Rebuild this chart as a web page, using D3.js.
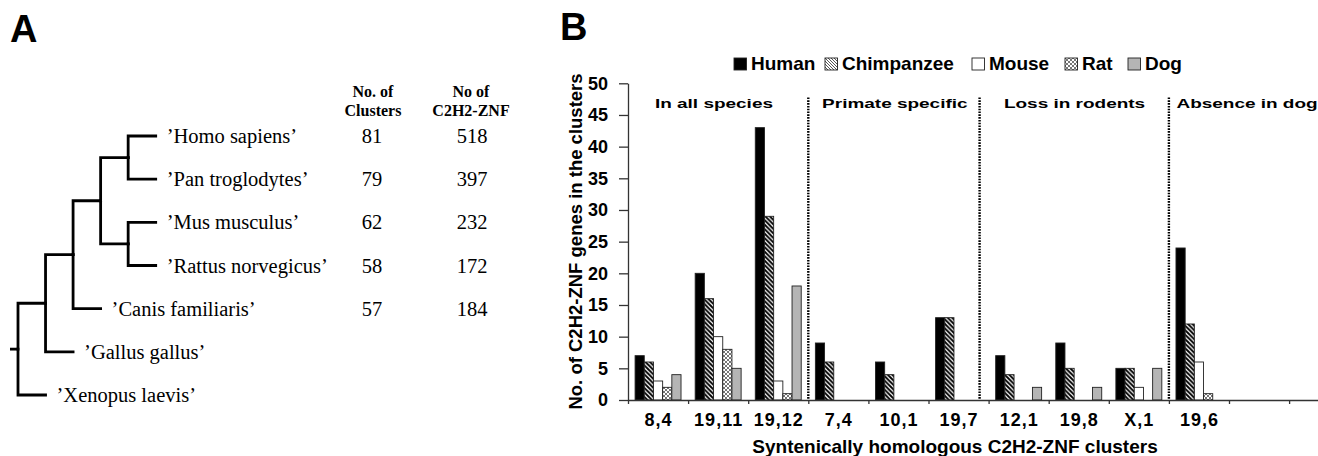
<!DOCTYPE html>
<html>
<head>
<meta charset="utf-8">
<script src="https://cdn.jsdelivr.net/npm/d3@7"></script>
<style>
  html, body { margin: 0; padding: 0; background: #fff; }
  svg { display: block; }
</style>
</head>
<body>
<svg id="chart" width="1318" height="456"></svg>
<script>
// ---------------- DATA ----------------
// Panel A: species tree and counts
const speciesNames = ["’Homo sapiens’", "’Pan troglodytes’", "’Mus musculus’", "’Rattus norvegicus’", "’Canis familiaris’", "’Gallus gallus’", "’Xenopus laevis’"];
const clusterCounts = [81, 79, 62, 58, 57, null, null];
const znfCounts = [518, 397, 232, 172, 184, null, null];
// Tree topology (indices into speciesNames)
const treeTopology = [[[[[0, 1], [2, 3]], 4], 5], 6];

// Panel B: grouped bars
const categories = ["8,4", "19,11", "19,12", "7,4", "10,1", "19,7", "12,1", "19,8", "X,1", "19,6", "", ""];
const seriesNames = ["Human", "Chimpanzee", "Mouse", "Rat", "Dog"];
const human      = [7, 20, 43, 9, 6, 13, 7, 9, 5, 24, 0, 0];
const chimpanzee = [6, 16, 29, 6, 4, 13, 4, 5, 5, 12, 0, 0];
const mouse      = [3, 10, 3, 0, 0, 0, 0, 0, 2, 6, 0, 0];
const rat        = [2, 8, 1, 0, 0, 0, 0, 0, 0, 1, 0, 0];
const dog        = [4, 5, 18, 0, 0, 0, 2, 2, 5, 0, 0, 0];
const yTicks = [0, 5, 10, 15, 20, 25, 30, 35, 40, 45, 50];
const sectionNames = ["In all species", "Primate specific", "Loss in rodents", "Absence in dog"];
const sectionCenters = [1.43, 4.44, 7.43, 10.3];   // in category units
const dividerPositions = [3, 5.85, 9];               // in category units

// ---------------- DRAW ----------------
const svg = d3.select("#chart");
svg.append("rect").attr("width", 1318).attr("height", 456).attr("fill", "#fff");

const defs = svg.append("defs");
const pc = defs.append("pattern").attr("id", "chimp").attr("patternUnits", "userSpaceOnUse")
  .attr("width", 4.5).attr("height", 4.5);
pc.append("rect").attr("width", 4.5).attr("height", 4.5).attr("fill", "#fff");
pc.append("path").attr("d", "M-1,-1 L5.5,5.5 M-1,3.5 L1,5.5 M3.5,-1 L5.5,1")
  .attr("stroke", "#000").attr("stroke-width", 1.9);
const pcl = defs.append("pattern").attr("id", "chimpLeg").attr("patternUnits", "userSpaceOnUse")
  .attr("width", 3).attr("height", 3);
pcl.append("rect").attr("width", 3).attr("height", 3).attr("fill", "#fff");
pcl.append("path").attr("d", "M-1,-1 L4,4 M-1,2 L1,4 M2,-1 L4,1")
  .attr("stroke", "#444").attr("stroke-width", 0.9);
const pr = defs.append("pattern").attr("id", "rat").attr("patternUnits", "userSpaceOnUse")
  .attr("width", 4).attr("height", 4);
pr.append("rect").attr("width", 4).attr("height", 4).attr("fill", "#fff");
pr.append("path").attr("d", "M0,0 L4,4 M4,0 L0,4").attr("stroke", "#666").attr("stroke-width", 0.9);

const fills = { Human: "#000", Chimpanzee: "url(#chimp)", Mouse: "#fff", Rat: "url(#rat)", Dog: "#b5b5b5" };
const legendFills = { Human: "#000", Chimpanzee: "url(#chimpLeg)", Mouse: "#fff", Rat: "url(#rat)", Dog: "#b5b5b5" };
const seriesValues = { Human: human, Chimpanzee: chimpanzee, Mouse: mouse, Rat: rat, Dog: dog };

// ---- Panel labels ----
svg.append("text").attr("x", 10).attr("y", 41.5).text("A")
  .attr("font-family", "Liberation Sans, Arial, sans-serif").attr("font-weight", "bold").attr("font-size", 38);
svg.append("text").attr("x", 560).attr("y", 40).text("B")
  .attr("font-family", "Liberation Sans, Arial, sans-serif").attr("font-weight", "bold").attr("font-size", 38);

// ---- Panel A: tree ----
const gA = svg.append("g");
function build(t) { return Array.isArray(t) ? { children: t.map(build) } : { leaf: t }; }
const root = d3.hierarchy(build(treeTopology));
const xDepth = d3.scaleLinear().domain([0, 5]).range([18, 155.7]);
const yLeaf = d3.scalePoint().domain(d3.range(speciesNames.length)).range([136, 395]);
root.eachAfter(n => {
  n.px = xDepth(n.depth);
  n.py = n.children ? d3.mean(n.children, c => c.py) : yLeaf(n.data.leaf);
});
gA.selectAll("path.link").data(root.descendants().filter(n => n.parent)).join("path")
  .attr("d", n => `M${n.parent.px},${n.parent.py}V${n.py}H${n.px}`)
  .attr("fill", "none").attr("stroke", "#000").attr("stroke-width", 2.8).attr("stroke-linecap", "square");
gA.append("path").attr("d", `M10,${root.py}H${root.px}`).attr("stroke", "#000").attr("stroke-width", 2.8);

const leaves = root.leaves();
gA.selectAll("text.sp").data(leaves).join("text")
  .attr("x", n => n.px + 11).attr("y", n => n.py + 7)
  .attr("font-family", "Liberation Serif, Times New Roman, serif").attr("font-size", 20.5)
  .text(n => speciesNames[n.data.leaf]);
gA.selectAll("text.cl").data(leaves.filter(n => clusterCounts[n.data.leaf] != null)).join("text")
  .attr("x", 372).attr("y", n => n.py + 7).attr("text-anchor", "middle")
  .attr("font-family", "Liberation Serif, Times New Roman, serif").attr("font-size", 20.5)
  .text(n => clusterCounts[n.data.leaf]);
gA.selectAll("text.zn").data(leaves.filter(n => znfCounts[n.data.leaf] != null)).join("text")
  .attr("x", 472).attr("y", n => n.py + 7).attr("text-anchor", "middle")
  .attr("font-family", "Liberation Serif, Times New Roman, serif").attr("font-size", 20.5)
  .text(n => znfCounts[n.data.leaf]);
const hdr = [["No. of", "Clusters", 373], ["No of", "C2H2-ZNF", 471]];
hdr.forEach(h => {
  [h[0], h[1]].forEach((s, i) => {
    gA.append("text").attr("x", h[2]).attr("y", 96.5 + i * 19).attr("text-anchor", "middle")
      .attr("font-family", "Liberation Serif, Times New Roman, serif").attr("font-weight", "bold")
      .attr("font-size", 16).text(s);
  });
});

// ---- Panel B: bar chart ----
const x0 = 628, step = 60.1;
const xLin = d3.scaleLinear().domain([0, categories.length]).range([x0, x0 + step * categories.length]);
const x = d3.scaleBand().domain(d3.range(categories.length)).range(xLin.range()).padding(0);
const xs = d3.scaleBand().domain(seriesNames).range([0, x.bandwidth()]).paddingInner(0).paddingOuter(0.77);
const y = d3.scaleLinear().domain([0, 50]).range([400, 83.3]);

const gB = svg.append("g");
const font = "Liberation Sans, Arial, sans-serif";

// bars
seriesNames.forEach(s => {
  gB.append("g").selectAll("rect").data(seriesValues[s].map((v, i) => ({ v, i })).filter(d => d.v > 0)).join("rect")
    .attr("x", d => x(d.i) + xs(s)).attr("width", xs.bandwidth())
    .attr("y", d => y(d.v)).attr("height", d => y(0) - y(d.v))
    .attr("fill", fills[s]).attr("stroke", "#222").attr("stroke-width", 0.9);
});

// y axis
const yAxis = gB.append("g").attr("transform", `translate(${x0},0)`)
  .call(d3.axisLeft(y).tickValues(yTicks).tickSize(9).tickPadding(11).tickSizeOuter(0));
yAxis.selectAll("path,line").attr("stroke", "#333").attr("stroke-width", 1.3);
yAxis.selectAll("text").attr("font-family", font).attr("font-weight", "bold").attr("font-size", 18).attr("fill", "#000");

// x axis
const xAxis = gB.append("g").attr("transform", `translate(0,${y(0)})`)
  .call(d3.axisBottom(xLin).tickValues(d3.range(categories.length + 1)).tickFormat("").tickSize(4).tickSizeOuter(0));
xAxis.selectAll("path,line").attr("stroke", "#333").attr("stroke-width", 1.3);
gB.append("g").selectAll("text").data(categories).join("text")
  .attr("x", (d, i) => x(i) + x.bandwidth() / 2 + 0.5).attr("y", 425.5).attr("text-anchor", "middle")
  .attr("font-family", font).attr("font-weight", "bold").attr("font-size", 18).attr("letter-spacing", 1)
  .text(d => d);

// dividers
gB.append("g").selectAll("line").data(dividerPositions).join("line")
  .attr("x1", d => xLin(d)).attr("x2", d => xLin(d)).attr("y1", 97.5).attr("y2", y(0))
  .attr("stroke", "#000").attr("stroke-width", 2.4).attr("stroke-dasharray", "1.6,1.2");

// section labels
gB.append("g").selectAll("text").data(sectionNames).join("text")
  .attr("transform", (d, i) => `translate(${xLin(sectionCenters[i])},108.3) scale(1.46,1)`)
  .attr("text-anchor", "middle").attr("font-family", font).attr("font-weight", "bold").attr("font-size", 13)
  .text(d => d);

// axis titles
gB.append("text").attr("transform", "translate(582,241.5) rotate(-90)").attr("text-anchor", "middle")
  .attr("font-family", font).attr("font-weight", "bold").attr("font-size", 18.5)
  .text("No. of C2H2-ZNF genes in the clusters");
gB.append("text").attr("x", 955).attr("y", 453).attr("text-anchor", "middle")
  .attr("font-family", font).attr("font-weight", "bold").attr("font-size", 19)
  .text("Syntenically homologous C2H2-ZNF clusters");

// legend
const legendX = [734, 825, 972, 1065, 1128];
const lg = gB.append("g").selectAll("g").data(seriesNames).join("g")
  .attr("transform", (d, i) => `translate(${legendX[i]},58)`);
lg.append("rect").attr("width", 12.5).attr("height", 12).attr("fill", d => legendFills[d])
  .attr("stroke", "#222").attr("stroke-width", 0.9);
lg.append("text").attr("x", 17).attr("y", 11.7).attr("font-family", font).attr("font-weight", "bold")
  .attr("font-size", 19).text(d => d);
</script>
</body>
</html>
